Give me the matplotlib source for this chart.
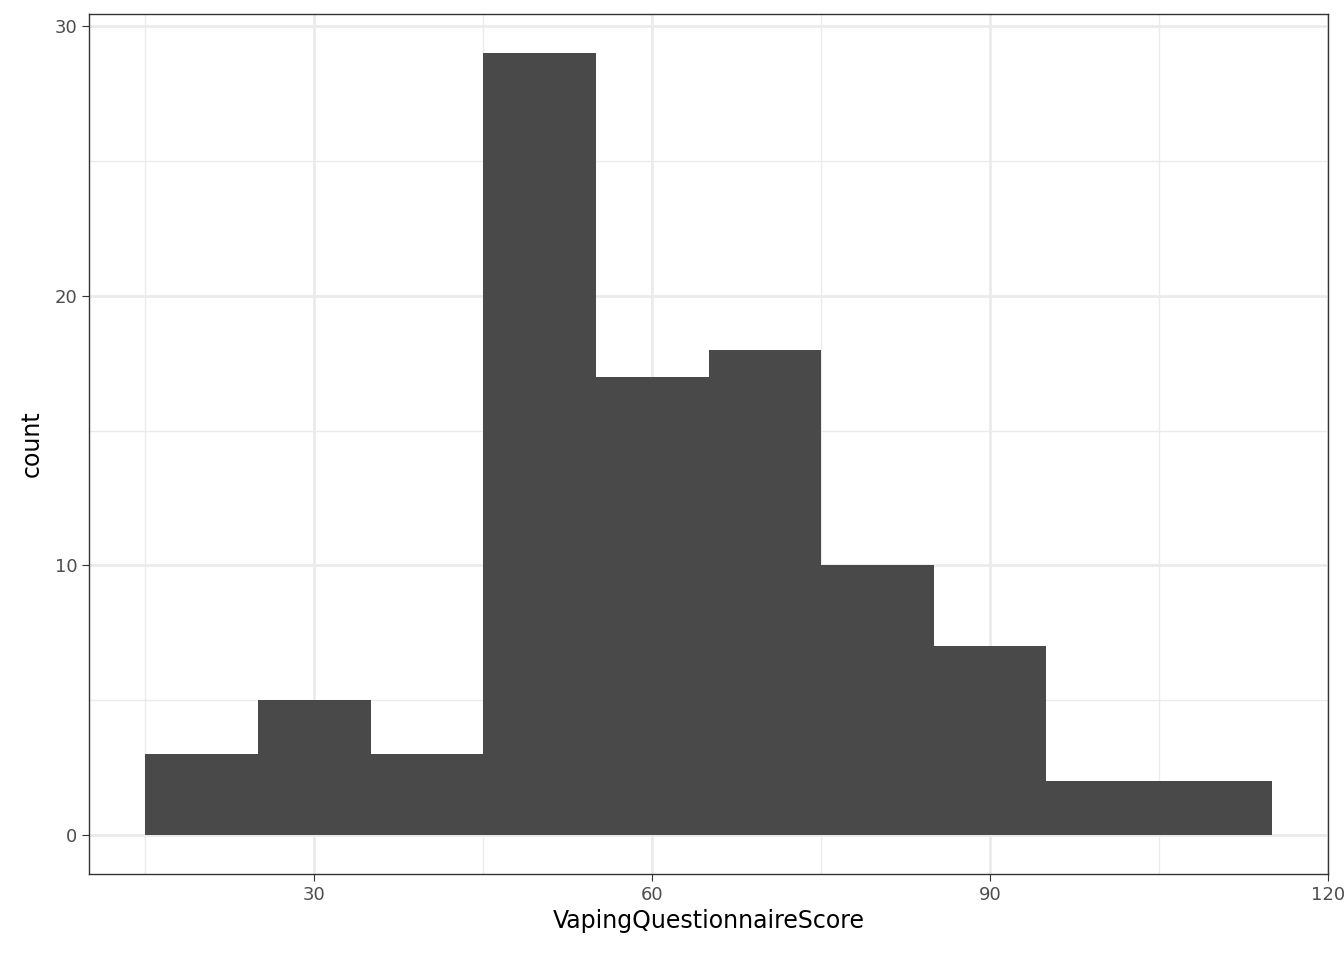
import matplotlib
matplotlib.use("Agg")
import matplotlib.pyplot as plt
import numpy as np

bin_edges = [15, 25, 35, 45, 55, 65, 75, 85, 95, 105, 115]
counts = [3, 5, 3, 29, 17, 18, 10, 7, 2, 2]

fig = plt.figure(figsize=(13.44, 9.6), dpi=100)
W, H = 1344, 960
ax = fig.add_axes([89/W, 1-874/H, (1328-89)/W, (874-14)/H])
ax.set_axisbelow(True)
ax.bar(bin_edges[:-1], counts, width=np.diff(bin_edges), align='edge', color='#494949', linewidth=0)
ax.set_xlim(10, 120)
ax.set_ylim(-1.45, 30.45)
ax.set_xticks([30, 60, 90, 120])
ax.set_yticks([0, 10, 20, 30])
ax.set_xticks([15, 45, 75, 105], minor=True)
ax.set_yticks([5, 15, 25], minor=True)
ax.grid(True, which='major', color='#ebebeb', linewidth=2)
ax.grid(True, which='minor', color='#ebebeb', linewidth=1)
ax.tick_params(which='minor', length=0)
ax.tick_params(which='major', length=5, color='#333333', labelsize=13, labelcolor='#4d4d4d')
for s in ax.spines.values():
    s.set_color('#333333'); s.set_linewidth(1)
ax.set_xlabel('VapingQuestionnaireScore', fontsize=17, labelpad=4)
ax.set_ylabel('count', fontsize=17, labelpad=8)
fig.savefig('out.png', dpi=100)
